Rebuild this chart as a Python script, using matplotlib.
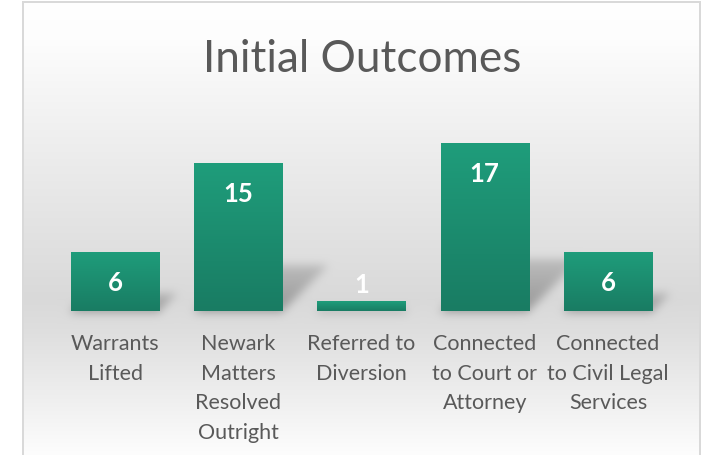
import numpy as np
import matplotlib
matplotlib.use("Agg")
import matplotlib.pyplot as plt

categories = ["Warrants\nLifted", "Newark\nMatters\nResolved\nOutright", "Referred to\nDiversion",
              "Connected\nto Court or\nAttorney", "Connected\nto Civil Legal\nServices"]
values = [6, 15, 1, 17, 6]
title = "Initial Outcomes"

W, H, DPI = 702, 456, 100
FONT = ["Lato", "DejaVu Sans"]
TXT = "#595959"

fig = plt.figure(figsize=(W / DPI, H / DPI), dpi=DPI)
bg = fig.add_axes([0, 0, 1, 1], zorder=0)
bg.set_axis_off()

ax = fig.add_axes([53.4 / W, 144 / H, 616.2 / W, 198 / H], zorder=1)
ax.patch.set_alpha(0)
x = np.arange(len(values))
bars = ax.bar(x, values, width=0.715, color="none", edgecolor="none")
ax.set_xlim(-0.5, len(values) - 0.5)
ax.set_ylim(0, 20)

# ---- background gradient + perspective shadows (pixel space) ----
rows = np.arange(H)
gy = np.interp(rows, [0, 40, 130, 300, 330, 456], [255, 253, 240, 217, 222, 253]) / 255.0
img = np.ones((H, W, 3))
img[:, :, :] = gy[:, None, None]

S = np.zeros((H, W))
for b in bars:
    (px0, py0) = ax.transData.transform((b.get_x(), 0))
    (px1, py1) = ax.transData.transform((b.get_x() + b.get_width(), b.get_height()))
    rb = H - py0
    hp = py1 - py0
    k, s, a0 = 0.32, 1.0, 0.30
    n = int(k * hp)
    for t in range(n):
        r = int(round(rb - t))
        sh = s * t
        a = a0 * (1 - 0.5 * t / max(n, 1))
        c0, c1 = int(px0 + sh), int(px1 + sh)
        S[r, c0:c1] = np.maximum(S[r, c0:c1], a)
    S[int(rb):int(rb) + 3, int(px0):int(px1) + 2] = np.maximum(S[int(rb):int(rb) + 3, int(px0):int(px1) + 2], 0.08)


def blur(a, sigma):
    r = int(3 * sigma)
    kk = np.exp(-0.5 * (np.arange(-r, r + 1) / sigma) ** 2)
    kk /= kk.sum()
    p = np.pad(a, ((0, 0), (r, r)), mode="edge")
    out = sum(kk[i] * p[:, i:i + a.shape[1]] for i in range(2 * r + 1))
    p = np.pad(out, ((r, r), (0, 0)), mode="edge")
    out = sum(kk[i] * p[i:i + a.shape[0], :] for i in range(2 * r + 1))
    return out


S = blur(S, 4.5)
img = img * (1 - S[:, :, None])

img[:3, :, :] = 1.0
img[:, :22, :] = 1.0
img[:, 701:, :] = 1.0
border = 217 / 255.0
img[2:4, 22:701, :] = border
img[2:, 22:24, :] = border
img[2:, 699:701, :] = border

bg.imshow(img, extent=[0, 1, 0, 1], aspect="auto", origin="upper", interpolation="nearest")
bg.set_xlim(0, 1)
bg.set_ylim(0, 1)

# ---- gradient bars ----
top_c = np.array([31, 157, 123]) / 255.0
bot_c = np.array([25, 124, 99]) / 255.0
g = np.linspace(0, 1, 100)[:, None, None]
grad = top_c * (1 - g) + bot_c * g
for b in bars:
    x0, w, h = b.get_x(), b.get_width(), b.get_height()
    im = ax.imshow(grad, extent=[x0, x0 + w, 0, h], aspect="auto", origin="upper",
                   interpolation="bilinear", zorder=2)
    im.set_clip_path(b)
ax.set_xlim(-0.5, len(values) - 0.5)
ax.set_ylim(0, 20)
ax.set_aspect("auto")

# ---- data labels ----
for b, v in zip(bars, values):
    cx = b.get_x() + b.get_width() / 2
    hp = ax.transData.transform((0, v))[1] - ax.transData.transform((0, 0))[1]
    if hp > 45:
        off = -30 * 72 / DPI
    else:
        off = 17 * 72 / DPI
    ax.annotate(str(v), (cx, v), xytext=(0, off), textcoords="offset points",
                ha="center", va="center", color="white", fontsize=18.5, fontweight="bold",
                family=FONT, zorder=3)

# ---- axes styling ----
for sp in ax.spines.values():
    sp.set_visible(False)
ax.set_yticks([])
ax.set_xticks(x)
ax.set_xticklabels(categories)
ax.tick_params(axis="x", length=0, pad=16, labelsize=15.5, labelcolor=TXT)
for lab in ax.get_xticklabels():
    lab.set_family(FONT)
    lab.set_linespacing(1.6)
    lab.set_verticalalignment("top")

fig.text(362 / W, (H - 72) / H, title, ha="center", va="baseline", fontsize=31.8,
         color=TXT, family=FONT)

fig.savefig("out.png", dpi=DPI)
